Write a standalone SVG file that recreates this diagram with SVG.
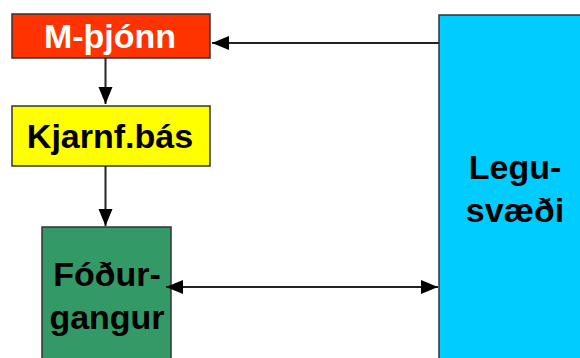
<svg xmlns="http://www.w3.org/2000/svg" width="580" height="358" viewBox="0 0 580 358">
  <defs>
    <marker id="arrow" markerUnits="userSpaceOnUse" markerWidth="18" markerHeight="16" refX="17" refY="7" orient="auto-start-reverse">
      <path d="M0,0 L17,7 L0,14 Z" fill="#000"/>
    </marker>
    <style>
      .box { stroke: #333; stroke-width: 1.5; }
      .lbl { font-family: "Liberation Sans", Arial, sans-serif; font-weight: bold; font-size: 34px; text-anchor: middle; fill: #000; }
      .edge { fill: none; stroke: #222; stroke-width: 2; }
    </style>
  </defs>
  <rect width="580" height="358" fill="#fff"/>

  <g id="legusvaedi">
    <rect class="box" x="439" y="15" width="160" height="360" fill="#00CCFF"/>
    <text class="lbl" x="515" y="179">Legu-</text>
    <text class="lbl" x="515" y="222">svæði</text>
  </g>

  <g id="fodurgangur">
    <rect class="box" x="42" y="227" width="129" height="150" fill="#339966"/>
    <text class="lbl" x="107" y="286">Fóður-</text>
    <text class="lbl" x="107" y="329">gangur</text>
  </g>

  <g id="m-thjonn">
    <rect class="box" x="12" y="14" width="198" height="44" fill="#FF3300"/>
    <text class="lbl" x="110" y="48" fill="#fff" style="fill:#fff">M-þjónn</text>
  </g>

  <g id="kjarnfbas">
    <rect class="box" x="12" y="106" width="198" height="60" fill="#FFFF00"/>
    <text class="lbl" x="110" y="148">Kjarnf.bás</text>
  </g>

  <g id="connectors">
    <line class="edge" x1="439" y1="43" x2="212" y2="43" marker-end="url(#arrow)"/>
    <line class="edge" x1="105.5" y1="58" x2="105.5" y2="104" marker-end="url(#arrow)"/>
    <line class="edge" x1="105.5" y1="166" x2="105.5" y2="226" marker-end="url(#arrow)"/>
    <line class="edge" x1="166" y1="287" x2="438" y2="287" marker-start="url(#arrow)" marker-end="url(#arrow)"/>
  </g>
</svg>
